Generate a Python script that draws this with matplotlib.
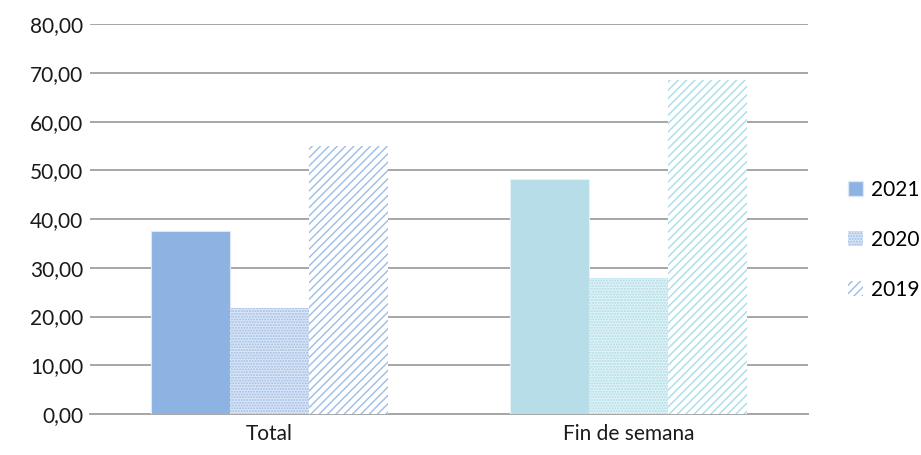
import numpy as np
import matplotlib.pyplot as plt
from matplotlib.patches import Patch

categories = ["Total", "Fin de semana"]
series = ["2021", "2020", "2019"]
v2021 = [37.6, 48.2]
v2020 = [21.7, 27.9]
v2019 = [55.0, 68.5]
yticks = [0, 10, 20, 30, 40, 50, 60, 70, 80]

# colour per category, pattern per series (as in the original)
cat_colors = ["#8DB3E2", "#B7DDE8"]
cat_light = ["#DCE6F5", "#E2F2F6"]
cat_hatch = ["#9DBDE6", "#A9DCE8"]

plt.rcParams["font.family"] = ["Lato", "DejaVu Sans"]
plt.rcParams["hatch.linewidth"] = 1.0

fig = plt.figure(figsize=(9.21, 4.55), dpi=100)
ax = fig.add_axes([0.098, 0.09, 0.779, 0.857])

x = np.arange(len(categories))
w = 0.22
for i in range(len(categories)):
    ax.bar(x[i] - w, v2021[i], w, color=cat_colors[i], edgecolor=cat_light[i],
           linewidth=0.8, zorder=3)
    ax.bar(x[i], v2020[i], w, facecolor=cat_light[i], edgecolor=cat_hatch[i],
           hatch="......", linewidth=0, zorder=3)
    ax.bar(x[i] + w, v2019[i], w, facecolor="white", edgecolor=cat_hatch[i],
           hatch="////", linewidth=0, zorder=3)

ax.set_xlim(-0.5, 1.5)
ax.set_ylim(0, 80)
ax.set_yticks(yticks)
ax.set_yticklabels([f"{t:.2f}".replace(".", ",") for t in yticks])
ax.set_xticks(x)
ax.set_xticklabels(categories)
ax.tick_params(length=0, labelsize=15, colors="#1a1a1a")
ax.tick_params(axis="y", pad=5)
ax.tick_params(axis="x", pad=7)
ax.grid(axis="y", color="#A6A6A6", linewidth=1.4, zorder=0)
for s in ["top", "right", "left"]:
    ax.spines[s].set_visible(False)
ax.spines["bottom"].set_color("#A6A6A6")
ax.spines["bottom"].set_linewidth(1.4)

handles = [
    Patch(facecolor=cat_colors[0], edgecolor=cat_light[0]),
    Patch(facecolor=cat_light[0], edgecolor=cat_hatch[0], hatch="......", linewidth=0),
    Patch(facecolor="white", edgecolor=cat_hatch[0], hatch="////", linewidth=0),
]
fig.legend(handles, series, loc="center left", bbox_to_anchor=(0.921, 0.473),
           frameon=False, fontsize=15, handlelength=0.7, handleheight=0.7,
           labelspacing=1.45, handletextpad=0.4, borderpad=0, borderaxespad=0)

fig.savefig("out.png", dpi=100)
